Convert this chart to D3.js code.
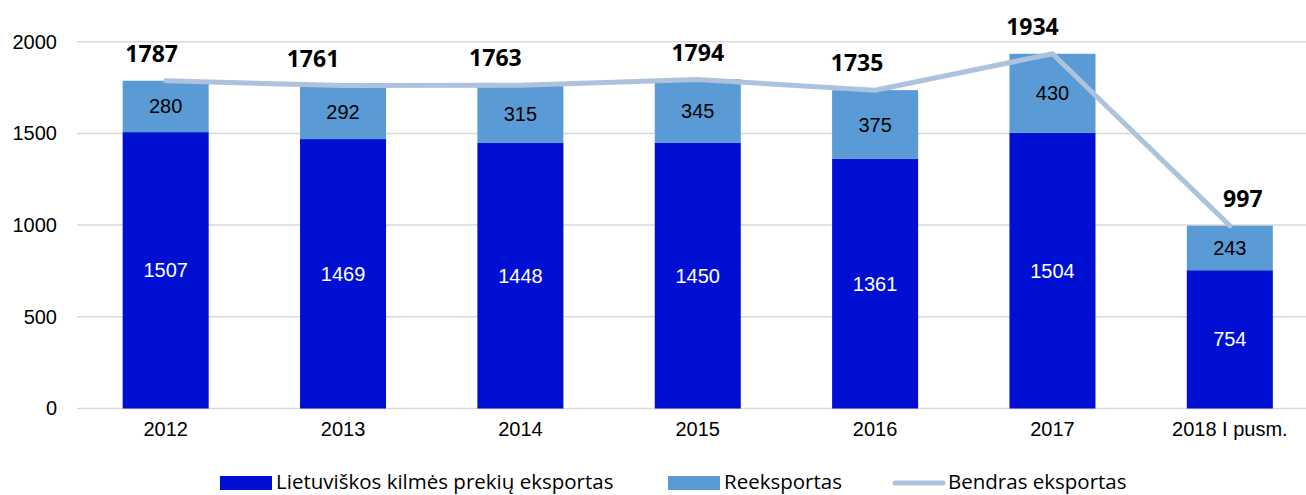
<!DOCTYPE html>
<html lang="lt">
<head>
<meta charset="utf-8">
<title>Eksportas</title>
<style>
   html,body { margin:0; padding:0; background:white; }
   svg { display:block; }
   .tick text { font-family:"Liberation Sans",Arial,sans-serif; }
</style>
<script src="https://d3js.org/d3.v7.min.js"></script>
</head>
<body>
<script>
// data
const years = ['2012','2013','2014','2015','2016','2017','2018 I pusm.'];
const domestic = [1507,1469,1448,1450,1361,1504,754];
const reexport = [280,292,315,345,375,430,243];
const total = [1787,1761,1763,1794,1735,1934,997];
const yTicks = [0,500,1000,1500,2000];
const seriesNames = ['Lietuviškos kilmės prekių eksportas','Reeksportas','Bendras eksportas'];
// hand-placed shift of the total labels, as in the original
const totalLabelDx = [-14,-30,-25,0,-18,-20,13];

const width = 1306, height = 495;
const colDom = '#0010d2', colRe = '#5b9bd5', colLine = '#adc3dd';

const x = d3.scaleBand()
   .domain(years)
   .range([77, 1318.5])
   .paddingInner(0.515)
   .paddingOuter(0.2575);
const y = d3.scaleLinear()
   .domain([0,2000])
   .range([408.5, 41.7]);

const svg = d3.select('body').append('svg')
   .attr('width',width).attr('height',height);

// gridlines
svg.append('g')
   .selectAll('line')
   .data(yTicks)
   .join('line')
   .attr('x1',77).attr('x2',width)
   .attr('y1',d => y(d)).attr('y2',d => y(d))
   .attr('stroke','#d9d9d9').attr('stroke-width',1.5);

// y axis labels
const yAxis = svg.append('g')
   .attr('transform','translate(62,0)')
   .call(d3.axisLeft(y).tickValues(yTicks).tickFormat(d3.format('d')).tickSize(0).tickPadding(5));
yAxis.select('.domain').remove();
yAxis.selectAll('text').attr('font-size',20).attr('fill','#000');

// x axis labels
const xAxis = svg.append('g')
   .attr('transform','translate(0,414)')
   .call(d3.axisBottom(x).tickSize(0).tickPadding(8));
xAxis.select('.domain').remove();
xAxis.selectAll('text').attr('font-size',20).attr('fill','#000');

const rows = years.map((yr,i) => ({yr:yr, dom:domestic[i], re:reexport[i], tot:total[i], dx:totalLabelDx[i]}));

// stacked bars
svg.append('g').selectAll('rect')
   .data(rows).join('rect')
   .attr('x',d => x(d.yr)).attr('width',x.bandwidth())
   .attr('y',d => y(d.dom)).attr('height',d => y(0)-y(d.dom))
   .attr('fill',colDom);
svg.append('g').selectAll('rect')
   .data(rows).join('rect')
   .attr('x',d => x(d.yr)).attr('width',x.bandwidth())
   .attr('y',d => y(d.dom+d.re)).attr('height',d => y(d.dom)-y(d.dom+d.re))
   .attr('fill',colRe);

const cx = d => x(d.yr)+x.bandwidth()/2;

// segment labels
svg.append('g').selectAll('text')
   .data(rows).join('text')
   .attr('x',cx).attr('y',d => (y(0)+y(d.dom))/2)
   .attr('dy','0.35em').attr('text-anchor','middle')
   .attr('font-family','"Liberation Sans",Arial,sans-serif').attr('font-size',20)
   .attr('fill','#fff')
   .text(d => d.dom);
svg.append('g').selectAll('text')
   .data(rows).join('text')
   .attr('x',cx).attr('y',d => (y(d.dom)+y(d.dom+d.re))/2)
   .attr('dy','0.35em').attr('text-anchor','middle')
   .attr('font-family','"Liberation Sans",Arial,sans-serif').attr('font-size',20)
   .attr('fill','#000')
   .text(d => d.re);

// total line
svg.append('path')
   .datum(rows)
   .attr('fill','none').attr('stroke',colLine).attr('stroke-width',5)
   .attr('stroke-linecap','round').attr('stroke-linejoin','round')
   .attr('d',d3.line().x(cx).y(d => y(d.tot)));

// total labels
svg.append('g').selectAll('text')
   .data(rows).join('text')
   .attr('x',d => cx(d)+d.dx).attr('y',d => y(d.tot)-27)
   .attr('dy','0.35em').attr('text-anchor','middle')
   .attr('font-family','"Open Sans",sans-serif').attr('font-weight',700).attr('font-size',23)
   .attr('fill','#000')
   .text(d => d.tot);

// legend
const legendItems = [
   {name:seriesNames[0], type:'rect', color:colDom, x:220},
   {name:seriesNames[1], type:'rect', color:colRe, x:668},
   {name:seriesNames[2], type:'line', color:colLine, x:892},
];
const lg = svg.append('g').attr('transform','translate(0,482)');
legendItems.forEach(it => {
   if (it.type==='rect') {
      lg.append('rect').attr('x',it.x).attr('y',-6).attr('width',52).attr('height',14).attr('fill',it.color);
   } else {
      lg.append('line').attr('x1',it.x+3).attr('x2',it.x+51).attr('y1',1).attr('y2',1)
         .attr('stroke',it.color).attr('stroke-width',5).attr('stroke-linecap','round');
   }
   lg.append('text').attr('x',it.x+56).attr('y',0).attr('dy','0.35em')
      .attr('font-family','"Open Sans",sans-serif').attr('font-size',20.5).attr('fill','#000')
      .text(it.name);
});
</script>
</body>
</html>
